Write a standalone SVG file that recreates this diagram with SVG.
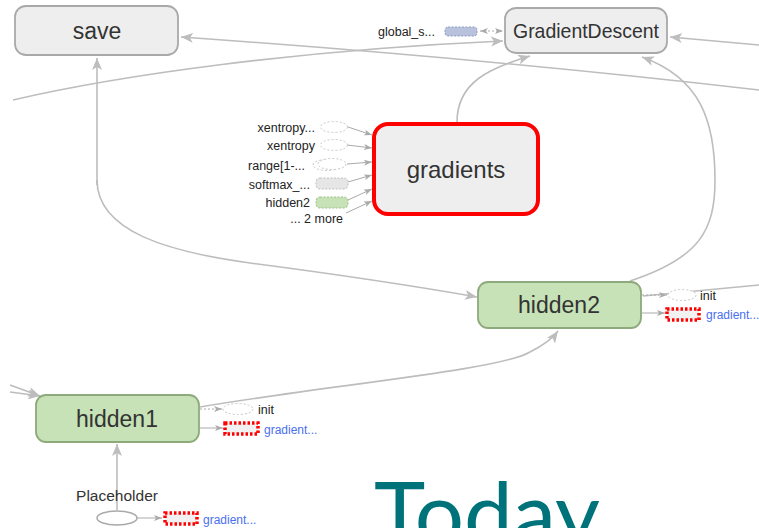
<svg xmlns="http://www.w3.org/2000/svg" width="759" height="528" viewBox="0 0 759 528">
<defs>
<marker id="ah" viewBox="0 0 12 10" refX="12" refY="5" markerWidth="12" markerHeight="10" markerUnits="userSpaceOnUse" orient="auto">
<path d="M0,0 L12,5 L0,10 L3,5 Z" fill="#bdbdbd"/>
</marker>
<marker id="as" viewBox="0 0 8 6" refX="8" refY="3" markerWidth="8" markerHeight="6" markerUnits="userSpaceOnUse" orient="auto">
<path d="M0,0 L8,3 L0,6 L2,3 Z" fill="#aaaaaa"/>
</marker>
<marker id="asr" viewBox="0 0 8 6" refX="0" refY="3" markerWidth="8" markerHeight="6" markerUnits="userSpaceOnUse" orient="auto">
<path d="M8,0 L0,3 L8,6 L6,3 Z" fill="#aaaaaa"/>
</marker>
</defs>
<style>
.edge{fill:none;stroke:#bdbdbd;stroke-width:1.6}
.sedge{fill:none;stroke:#aaaaaa;stroke-width:1}
.dedge{fill:none;stroke:#aaaaaa;stroke-width:1;stroke-dasharray:2,2}
.node{fill:#eeeeee;stroke:#a9a9a9;stroke-width:1.8}
.gnode{fill:#c6e2b6;stroke:#8ea97c;stroke-width:1.8}
.lbl{font-family:"Liberation Sans",Arial,sans-serif;fill:#333333;text-anchor:middle}
.sm{font-family:"Liberation Sans",Arial,sans-serif;font-size:12.5px;fill:#222222}
.blue{font-family:"Liberation Sans",Arial,sans-serif;font-size:12px;fill:#4a6ff0}
.dell{fill:#ffffff;stroke:#c8c8c8;stroke-width:1;stroke-dasharray:2,2}
.red{fill:#f1f1f1;stroke:#ff0000;stroke-width:3.5;stroke-dasharray:2.5,2}
</style>
<g id="connectors">
<path class="edge" d="M759,90 Q480,58 181,37" marker-end="url(#ah)"/>
<path class="edge" d="M13,100 C120,75 300,50 503,41" marker-end="url(#ah)"/>
<path class="edge" d="M759,45 L670,37" marker-end="url(#ah)"/>
<path class="edge" d="M457,122 C457,82 490,68 530,56" marker-end="url(#ah)"/>
<path class="edge" d="M630,281 C700,258 715,230 715,180 C715,120 700,78 642,57" marker-end="url(#ah)"/>
<path class="edge" d="M97,185 V180 C97,232 170,252 250,263 Q380,280 477,297" marker-end="url(#ah)"/>
<path class="edge" d="M97,185 V58" marker-end="url(#ah)"/>
<path class="edge" d="M200,407 C330,385 500,370 530,352 Q550,342 558,331" marker-end="url(#ah)"/>
<path class="edge" d="M643,296 L759,285"/>
<path class="edge" d="M117,510 V444" marker-end="url(#ah)"/>
<path class="edge" d="M10,385 L40,396" marker-end="url(#ah)"/>
<path class="edge" d="M10,392 L40,396" marker-end="url(#ah)"/>
<path class="dedge" d="M480,31 L503,31" marker-start="url(#asr)" marker-end="url(#as)"/>
<path class="sedge" d="M348,127 L372,135" marker-end="url(#as)"/>
<path class="sedge" d="M347,145 L372,148" marker-end="url(#as)"/>
<path class="sedge" d="M347,164 L372,162" marker-end="url(#as)"/>
<path class="sedge" d="M348,182 L372,175" marker-end="url(#as)"/>
<path class="sedge" d="M348,200 L372,189" marker-end="url(#as)"/>
<path class="sedge" d="M346,213 L372,201" marker-end="url(#as)"/>
<path class="dedge" d="M642,295 L667,295" marker-end="url(#as)"/>
<path class="sedge" d="M642,313 L665,313" marker-end="url(#as)"/>
<path class="dedge" d="M200,409 L222,409" marker-end="url(#as)"/>
<path class="sedge" d="M200,428 L223,428" marker-end="url(#as)"/>
<path class="sedge" d="M137,518 L162,518" marker-end="url(#as)"/>
</g>
<g id="save">
<rect class="node" x="15" y="6" width="163" height="49" rx="11"/>
<text class="lbl" x="97" y="39" font-size="23">save</text>
</g>
<g id="GradientDescent">
<rect class="node" x="505" y="8" width="162" height="45" rx="11"/>
<text class="lbl" x="586" y="38" font-size="21" textLength="146" lengthAdjust="spacingAndGlyphs">GradientDescent</text>
</g>
<g id="global_step">
<text class="sm" x="378" y="36" font-size="12">global_s...</text>
<rect x="445" y="27" width="32" height="9" rx="3" fill="#b8c2dc" stroke="#8e9bc2" stroke-width="1" stroke-dasharray="2,1.5"/>
</g>
<g id="gradients">
<rect x="374" y="124" width="164" height="90" rx="14" fill="#eeeeee" stroke="#ff0000" stroke-width="4"/>
<text class="lbl" x="456" y="178" font-size="24">gradients</text>
</g>
<g id="grad_inputs">
<text class="sm" x="315" y="132" text-anchor="end">xentropy...</text>
<ellipse class="dell" cx="334" cy="127" rx="13.5" ry="5.5"/>
<text class="sm" x="315" y="150" text-anchor="end">xentropy</text>
<ellipse class="dell" cx="334" cy="145" rx="13.5" ry="5.5"/>
<text class="sm" x="305" y="170" text-anchor="end">range[1-...</text>
<ellipse class="dell" cx="327" cy="165" rx="14" ry="5.5"/>
<ellipse class="dell" cx="332" cy="164" rx="14" ry="5.5"/>
<text class="sm" x="310" y="189" text-anchor="end">softmax_...</text>
<rect x="316" y="178" width="32" height="11" rx="4" fill="#e6e6e6" stroke="#c0c0c0" stroke-width="1" stroke-dasharray="2,1.5"/>
<text class="sm" x="310" y="207" text-anchor="end">hidden2</text>
<rect x="316" y="197" width="32" height="11" rx="4" fill="#c6e2b6" stroke="#9ebf8c" stroke-width="1" stroke-dasharray="2,1.5"/>
<text class="sm" x="343" y="223" text-anchor="end">... 2 more</text>
</g>
<g id="hidden2">
<rect class="gnode" x="478" y="282" width="163" height="46" rx="10"/>
<text class="lbl" x="559" y="313" font-size="23">hidden2</text>
</g>
<g id="hidden2_aux">
<ellipse class="dell" cx="682" cy="295" rx="14" ry="5.5"/>
<text class="sm" x="700" y="300" font-size="12">init</text>
<rect class="red" x="667" y="309" width="32" height="11"/>
<text class="blue" x="706" y="319">gradient...</text>
</g>
<g id="hidden1">
<rect class="gnode" x="36" y="395" width="163" height="47" rx="10"/>
<text class="lbl" x="117" y="427" font-size="23">hidden1</text>
</g>
<g id="hidden1_aux">
<ellipse class="dell" cx="238" cy="409" rx="15" ry="5.5"/>
<text class="sm" x="258" y="414" font-size="12">init</text>
<rect class="red" x="225" y="423" width="33" height="11"/>
<text class="blue" x="264" y="434">gradient...</text>
</g>
<g id="Placeholder">
<text x="117" y="501" font-family="Liberation Sans, Arial, sans-serif" font-size="15.5" fill="#333333" text-anchor="middle">Placeholder</text>
<ellipse cx="117" cy="518" rx="20" ry="7" fill="#ffffff" stroke="#aaaaaa" stroke-width="1.5"/>
<rect class="red" x="165" y="513" width="32" height="11"/>
<text class="blue" x="203" y="524">gradient...</text>
</g>
<g id="title">
<text x="374" y="545" font-family="Lato, 'Open Sans', sans-serif" font-size="87" fill="#00737a">Today</text>
</g>
</svg>
